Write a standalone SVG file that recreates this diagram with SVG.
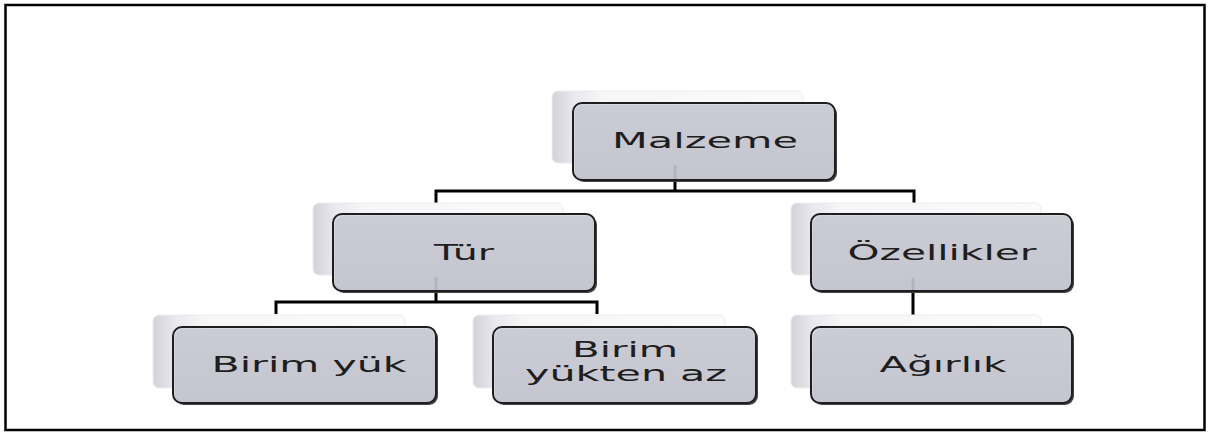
<svg xmlns="http://www.w3.org/2000/svg" width="1208" height="437" viewBox="0 0 1208 437">
<defs>
<linearGradient id="backg" x1="0" y1="0" x2="1" y2="0">
<stop offset="0" stop-color="#d2d2da"/>
<stop offset="0.09" stop-color="#e9e9ee"/>
<stop offset="0.2" stop-color="#f6f6f8"/>
<stop offset="1" stop-color="#fbfbfc"/>
</linearGradient>
<linearGradient id="frontg" x1="0" y1="0" x2="0" y2="1">
<stop offset="0" stop-color="#d6d6e0"/>
<stop offset="1" stop-color="#cfcfda"/>
</linearGradient>
<style>
.back{fill:url(#backg);stroke:#ececf0;stroke-width:1}
.shadow{fill:#444}
.front{fill:url(#frontg);stroke:#1e1e1e;stroke-width:2;fill-opacity:0.93}
.lbl{font-family:"DejaVu Sans","Liberation Sans",sans-serif;font-size:22px;fill:#1e1e1e;text-anchor:middle}
.conn{fill:none;stroke:#000;stroke-width:3}
.faint{stroke:#b4b4c0;stroke-width:3}
</style>
</defs>
<rect x="0" y="0" width="1208" height="437" fill="#fff"/>
<rect x="5.5" y="5" width="1199" height="425" fill="none" stroke="#000" stroke-width="2.5"/>

<g id="connectors">
<path class="conn" d="M675 180 V191 M436 203 V191 H914 V203"/>
<path class="conn" d="M436 291 V302 M276 314 V302 H597 V314"/>
<path class="conn" d="M913 291 V315"/>
</g>

<g id="n-malzeme">
<rect class="back" x="552" y="91" width="251" height="72" rx="6"/>
<rect class="shadow" x="575" y="105" width="262" height="77" rx="9"/>
<rect class="front" x="573" y="103" width="262" height="77" rx="9"/>
<line class="faint" x1="675" y1="165" x2="675" y2="179"/>
<text class="lbl" x="705" y="148" textLength="186" lengthAdjust="spacingAndGlyphs">Malzeme</text>
</g>

<g id="n-tur">
<rect class="back" x="313" y="203" width="250" height="72" rx="6"/>
<rect class="shadow" x="335" y="216" width="262" height="77" rx="9"/>
<rect class="front" x="333" y="214" width="262" height="77" rx="9"/>
<line class="faint" x1="436" y1="277" x2="436" y2="290"/>
<text class="lbl" x="464" y="260" textLength="60" lengthAdjust="spacingAndGlyphs">Tür</text>
</g>

<g id="n-ozellikler">
<rect class="back" x="791" y="203" width="250" height="72" rx="6"/>
<rect class="shadow" x="813" y="216" width="261" height="77" rx="9"/>
<rect class="front" x="811" y="214" width="261" height="77" rx="9"/>
<line class="faint" x1="913" y1="278" x2="913" y2="290"/>
<text class="lbl" x="942" y="260" textLength="189" lengthAdjust="spacingAndGlyphs">Özellikler</text>
</g>

<g id="n-birim-yuk">
<rect class="back" x="153" y="315" width="252" height="73" rx="6"/>
<rect class="shadow" x="175" y="329" width="263" height="76" rx="9"/>
<rect class="front" x="173" y="327" width="263" height="76" rx="9"/>
<text class="lbl" x="309" y="372" textLength="195" lengthAdjust="spacingAndGlyphs">Birim yük</text>
</g>

<g id="n-birim-yukten-az">
<rect class="back" x="473" y="315" width="252" height="73" rx="6"/>
<rect class="shadow" x="495" y="329" width="263" height="76" rx="9"/>
<rect class="front" x="493" y="327" width="263" height="76" rx="9"/>
<text class="lbl" x="625" y="357" textLength="106" lengthAdjust="spacingAndGlyphs">Birim</text>
<text class="lbl" x="626" y="381" textLength="202" lengthAdjust="spacingAndGlyphs">yükten az</text>
</g>

<g id="n-agirlik">
<rect class="back" x="791" y="315" width="250" height="73" rx="6"/>
<rect class="shadow" x="813" y="329" width="261" height="76" rx="9"/>
<rect class="front" x="811" y="327" width="261" height="76" rx="9"/>
<text class="lbl" x="943" y="372" textLength="127" lengthAdjust="spacingAndGlyphs">Ağırlık</text>
</g>
</svg>
